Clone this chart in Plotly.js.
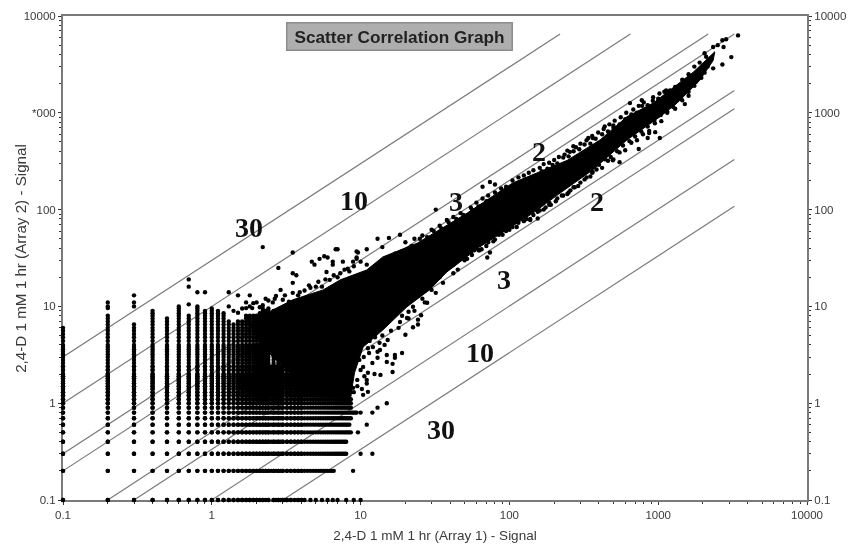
<!DOCTYPE html>
<html><head><meta charset="utf-8">
<script src="https://cdn.plot.ly/plotly-3.0.1.min.js"></script>
<style>html,body{margin:0;padding:0;background:#fff}#c{width:855px;height:546px;filter:blur(0.45px)}</style>
</head><body><div id="c"></div>
<script>
// Fold-change guide lines: [startX,endX], [startY,endY]
const foldLineX = [[0.1,219],[0.1,650],[0.1,2170],[0.1,3250],[0.2,3250],[0.3,3250],[1,3250],[3,3250]];
const foldLineY = [[3,6500],[1,6500],[0.3,6500],[0.2,6500],[0.1,1700],[0.1,1100],[0.1,330],[0.1,108]];
const foldLabels = ["30","10","3","2","2","3","10","30"];
const foldLabelLogX = [0.249,0.955,1.64,2.2,2.59,1.965,1.8,1.54];
const foldLabelLogY = [1.82,2.09,2.08,2.6,2.08,1.28,0.52,-0.27];

// Discrete low-intensity signal levels
const levelsY = [0.1,0.2,0.3,0.4,0.5,0.6,0.7,0.8,0.9,1,1.1,1.2,1.3,1.4,1.5,1.6,1.7,1.8,1.9,2,2.2,2.4,2.6,2.8,3,3.2,3.4,3.6,3.8,4,4.4,4.8,5.2,5.6,6,6.5,7,7.5,8,8.5,9,9.5,10];
const levelsX = [0.1,0.2,0.3,0.4,0.5,0.6,0.7,0.8,0.9,1,1.1,1.2,1.3,1.4,1.5,1.6,1.7,1.8,1.9,2,2.1,2.2,2.3,2.4,2.5,2.6,2.7,2.8,2.9,3,3.2,3.4,3.6,3.8,4,4.2,4.4,4.6,4.8,5,5.2,5.4,5.6,5.8,6,6.2,6.4,6.6,6.8,7,7.2,7.4,7.6,7.8,8,8.2,8.4,8.6,8.8,9,9.2,9.4];
// Column of points at each X: highest continuous Y
const columnX   = [0.1,0.2,0.3,0.4,0.5,0.6,0.7,0.8,0.9,1,1.1,1.2,1.3,1.4,1.5,1.6,1.7,1.8,1.9,2,2.1,2.2,2.3,2.4,2.6,2.8,3,3.2,3.4,3.6,3.8,4];
const columnTop = [6,8,6.5,9,7.5,10,8,10,9,9.5,9,8.5,7,6.5,7,7,8,8,8,8,8.5,9,9,9.5,9,9,8,7,6,5,4.4,3.6];
// Row of points at each Y: rightmost continuous X
const rowY     = [0.2,0.3,0.4,0.5,0.6,0.7,0.8,0.9,1,1.1,1.2,1.3,1.4,1.5,1.6,1.7,1.8,1.9,2,2.2,2.4];
const rowRight = [6.6,8,8,8.6,8.4,8.6,9.4,8.6,8.6,8.6,8.4,8.6,8.2,8.4,8,8,7.6,7.4,7,6.4,5.6];
const bottomRowX = [0.1,0.2,0.3,0.4,0.5,0.6,0.7,0.8,0.9,1,1.1,1.2,1.3,1.4,1.5,1.6,1.7,1.8,1.9,2,2.2,2.4,2.6,2.7,2.8,2.9,3,3.1,3.2,3.4,3.8,4,4.2,4.6,5,5.5,6,6.5,7,8,9,10];

// Outline of the solid black core of the cloud
const coreX = [1.8,2.57,3.5,5.6,7.3,11,14.1,24,52,105,245,407,617,925,1720,2000,2400,2340,1900,1340,1030,617,363,219,144,63,38,29,20.5,14.1,10.4,9.1,8.5,8.1,5.1,3.35,2.57,2.17];
const coreY = [6.5,9.2,11.7,14.8,18.8,23.8,32.4,45,92,188,323,525,912,1260,2630,3240,4270,3470,2160,1260,912,525,257,148,92,41,22.7,14.8,9.9,5.7,3.8,2.06,1.08,1.62,1.48,2.06,3,4];

// Individual points outside the core
const extraX = [0.2,0.2,0.2,0.3,0.3,0.3,0.7,0.7,0.7,0.8,0.9,1.3,1.3,1.5,1.4,1.7,1.8,1.6,2,2.3,1.8,2.2,2.65,
 2.2,3.5,6.8,13,15.5,18.4,32,66,74,80,9.4,11,14,2.8,3.5,3.7,4.7,4.9,5.3,5.7,6,6.5,6.5,7,7.6,9.6,9.4,9.4,8.9,11,8.2,7.3,6.2,5.5,5.9,4.6,3.9,3.5,3.5,2.9,3,2.57,2.2,1.87,
 646,776,925,1020,1130,437,500,339,363,269,245,3440,2860,2700,2510,2340,2050,2750,3100,2700,2340,1510,1025,850,870,955,740,550,495,363,257,155,138,186,74,63,71,
 19,17,17,15,15,13,16.4,16.4,13.6,20,22.5,24.3,24.3,25.5,21,18.4,15.2,13.5,12.1,11.2,10.4,11.2,11,9.5,11.2,10.4,8.9,15,13,12,10,11,9.6,12,10,8.9,28,32,30,35.8,42,22.5,20.5,
 20,23,26,30,34,38,42,47,55,60,66,72,80,88,95,105,115,125,135,145,160,170,185,200,215,235,255,280,300,330,360,395,430,470,510,560,610,680,740,800,
 45,50,56,62,70,78,85,95,105,115,130,145,160,175,190,210,230,250,275,300,330,360,400,440,480,530,580,640,700,770,850,940,1040,1150,1260,1400,1600,1800,2050];
const extraY = [9.6,10,11,10,11,13,10.5,16,19,14,14,10,14,13,9,11,13,9.5,11,12,10,9.6,12,
 41,36,39,50,51,55,100,172,193,182,37,39,41,25,22,21,29,27,31,33,32,29,27,39,29,36,32,31,29,27,24.5,22,18.8,16,22.7,15.6,14,17.5,13.8,14.8,11.7,11,10.3,9.6,
 1260,1350,1445,1585,1700,724,741,550,550,452,407,6300,5750,5620,5000,4790,4120,4790,3760,3160,2880,1230,550,550,617,631,422,309,324,245,158,81,78,117,36,38,32,
 3.3,3.15,2.95,3.15,2.67,2.95,2.1,2.55,1.96,5.1,6.1,6.5,7.3,8.1,8.8,6.9,4.5,3.55,3.8,3.7,2.37,2.06,1.74,1.74,1.31,1.22,1.44,1,0.9,0.8,0.8,0.6,0.5,0.3,0.3,0.2,10.9,13.8,14.8,17.5,22,9.9,7.6,
 46,50,54,62,68,78,84,92,105,118,130,140,150,165,172,200,215,225,240,255,270,295,305,325,350,370,395,440,480,520,575,625,680,760,830,900,1000,1080,1180,1280,
 24,30,34,38,42,47,55,60,66,73,80,88,98,105,112,130,140,150,170,190,215,240,290,330,350,400,460,510,570,640,720,840,950,1030,1150,1400,1650,2100,2600];

// Jagged upper edge of the ribbon
const upperEdgeX = [15,17,19,22,25,28,31,35,39,44,49,56,62,70,78,86,96,108,120,132,150,165,180,195,210,230,250,270,295,320,350,380,420,460,500,550,600,660,720,780,850,920,1000,1100,1200,1300,1450,1600,1750,1900,2100];
const upperEdgeY = [31,35,37,42,50,52,60,64,74,80,88,100,108,122,128,145,150,170,190,205,220,250,265,290,300,345,355,400,420,470,480,540,600,640,700,760,860,960,1000,1180,1200,1330,1400,1650,1700,1850,2200,2500,3000,3300,3800];
// Jagged lower edge of the ribbon
const lowerEdgeX = [30,34,38,42,47,52,58,65,72,80,90,100,112,125,138,155,170,185,205,225,245,270,290,320,350,385,420,460,500,550,600,660,720,790,870,950,1050,1150,1300,1450,1600,1750,1950,2150];
const lowerEdgeY = [17,20,25,27,31,31,38,39,46,49,55,62,66,76,80,95,100,112,122,140,145,170,175,205,220,260,270,320,330,390,410,490,520,600,650,780,820,1000,1100,1350,1500,1900,2300,3000];
// Speckle at the lower right and upper left of the wide part of the cloud
const speckleX = [9.5,10,10.5,11,11.5,12,12.5,13,14,14.5,16,18,19,21,23,26,27,9.8,10.6,11.4,12.4,13.4,9,9.6,10.2,1.5,1.7,1.9,2.1,2.4,2.7,3.1,3.3,3.8,4.2,4.5,5,5.2,5.8,6.6,7,7.8,8.4,9,10];
const speckleY = [1.5,2.2,3,1.6,4.4,2.6,4.8,3.4,5,4,5.6,6,8,7.5,9,12,11,2.8,1.9,3.3,2,4.2,1.3,3.2,1.4,8.6,9.6,10.8,9.8,11.5,12.8,13,11.2,13,14.6,16.5,16,18,19,21,20,24,23,26,29];

const axisTicks = [0.1,1,10,100,1000,10000];
const xTickText = ["0.1","1","10","100","1000","10000"];
const leftTickText = ["0.1","1","10","100","*000","10000"];
const rightTickText = ["0.1","1","10","100","1000","10000"];
const minorTicks = [0.2,0.3,0.4,0.5,0.6,0.7,0.8,0.9,2,3,4,5,6,7,8,9,20,30,40,50,60,70,80,90,200,300,400,500,600,700,800,900,2000,3000,4000,5000,6000,7000,8000,9000];
const chartTitle = "Scatter Correlation Graph";
const xTitle = "2,4-D 1 mM 1 hr (Array 1) - Signal";
const yTitle = "2,4-D 1 mM 1 hr (Array 2) - Signal";

const gridX=[],gridY=[];
columnX.forEach((x,i)=>levelsY.forEach(y=>{if(y<=columnTop[i]){gridX.push(x);gridY.push(y);}}));
rowY.forEach((y,i)=>levelsX.forEach(x=>{if(x<=rowRight[i]){gridX.push(x);gridY.push(y);}}));
bottomRowX.forEach(x=>{gridX.push(x);gridY.push(0.1);});

const lineColor='#7a7a7a', textColor='#3a3a3a';
const dot={size:4.4,color:'#000'};
const traces=[];
foldLineX.forEach((fx,i)=>traces.push({x:fx,y:foldLineY[i],mode:'lines',line:{color:lineColor,width:1.2},hoverinfo:'skip',showlegend:false}));
traces.push({x:coreX,y:coreY,mode:'lines',fill:'toself',fillcolor:'#000',line:{color:'#000',width:1},showlegend:false,hoverinfo:'skip'});
[[gridX,gridY],[extraX,extraY],[upperEdgeX,upperEdgeY],[lowerEdgeX,lowerEdgeY],[speckleX,speckleY]].forEach(p=>
 traces.push({x:p[0],y:p[1],mode:'markers',marker:dot,cliponaxis:false,showlegend:false}));
traces.push({x:[1],y:[1],yaxis:'y2',mode:'markers',marker:{size:1,opacity:0},showlegend:false,hoverinfo:'skip'});

const axisBase={type:'log',range:[-1,4],showgrid:false,zeroline:false,showline:true,linecolor:lineColor,linewidth:2,layer:'below traces',
 ticks:'outside',ticklen:3,tickcolor:'#333',tickmode:'array',tickvals:axisTicks,tickfont:{family:'Liberation Sans, Arial',size:11.5,color:textColor},
 minor:{ticks:'outside',ticklen:2,tickcolor:'#333',tickmode:'array',tickvals:minorTicks,showgrid:false}};

const labelAnn=foldLabels.map((t,i)=>({x:foldLabelLogX[i],y:foldLabelLogY[i],xref:'x',yref:'y',text:'<b>'+t+'</b>',showarrow:false,
 font:{family:'Liberation Serif',size:28,color:'#111'}}));
const titleAnn={xref:'paper',yref:'paper',x:(399.5-63.3)/743.7,y:1-(36.5-15.7)/484.3,xanchor:'center',yanchor:'middle',text:'<b>'+chartTitle+'</b>',showarrow:false,
 font:{family:'Liberation Sans, Arial',size:17.2,color:'#222'},bgcolor:'#aeaeae',bordercolor:'#8c8c8c',borderwidth:1.5,width:222,height:24};
const yTitleAnn={xref:'paper',yref:'paper',x:(20-63.3)/743.7,y:1-(258-15.7)/484.3,xanchor:'center',yanchor:'middle',text:yTitle,textangle:-90,showarrow:false,
 font:{family:'Liberation Sans, Arial',size:15.2,color:textColor}};

Plotly.newPlot('c',traces,{
 width:855,height:546,paper_bgcolor:'#fff',plot_bgcolor:'#fff',
 margin:{l:63.3,r:48,t:15.7,b:46,pad:0},showlegend:false,
 xaxis:Object.assign({},axisBase,{ticktext:xTickText,mirror:true,title:{text:xTitle,font:{family:'Liberation Sans, Arial',size:13.5,color:textColor},standoff:11}}),
 yaxis:Object.assign({},axisBase,{ticktext:leftTickText}),
 yaxis2:Object.assign({},axisBase,{ticktext:rightTickText,overlaying:'y',side:'right'}),
 annotations:labelAnn.concat([titleAnn,yTitleAnn])
},{displayModeBar:false,staticPlot:true});
</script></body></html>
